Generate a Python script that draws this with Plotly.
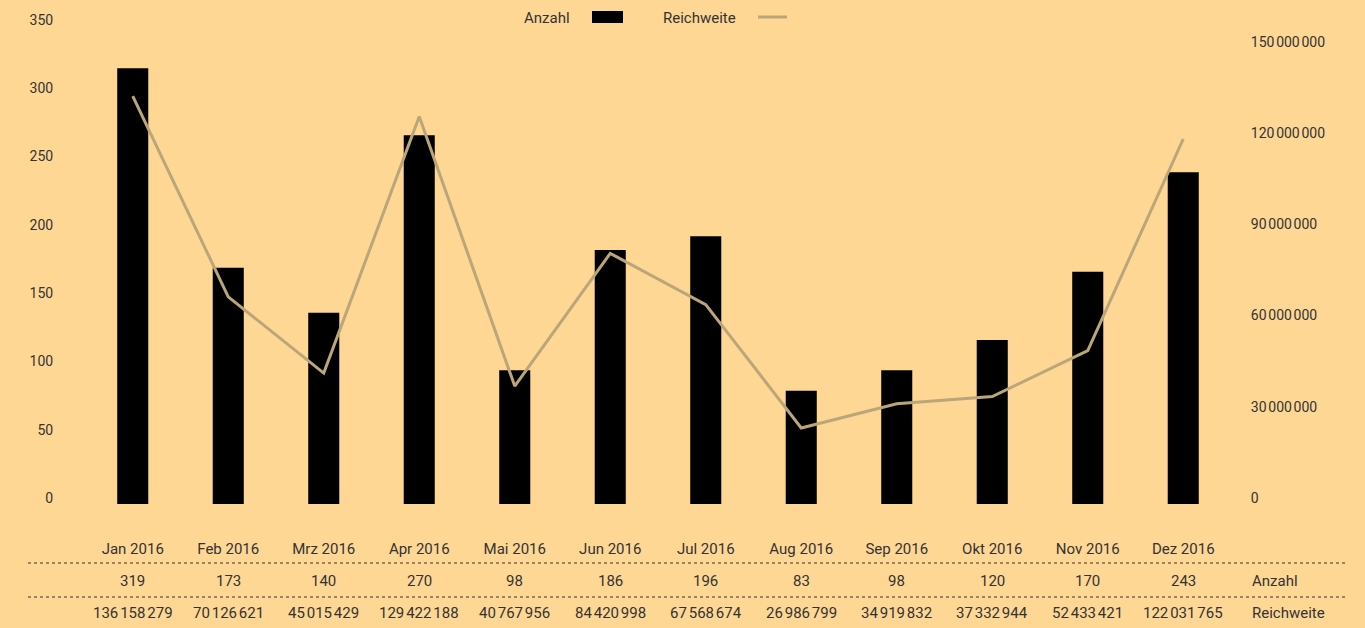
import plotly.graph_objects as go

months = ["Jan 2016", "Feb 2016", "Mrz 2016", "Apr 2016", "Mai 2016", "Jun 2016",
          "Jul 2016", "Aug 2016", "Sep 2016", "Okt 2016", "Nov 2016", "Dez 2016"]
anzahl = [319, 173, 140, 270, 98, 186, 196, 83, 98, 120, 170, 243]
reichweite = [136158279, 70126621, 45015429, 129422188, 40767956, 84420998,
              67568674, 26986799, 34919832, 37332944, 52433421, 122031765]
left_ticks = [0, 50, 100, 150, 200, 250, 300, 350]
right_ticks = [0, 30000000, 60000000, 90000000, 120000000, 150000000]

BG = "#FFD794"
LINE = "#BBA679"
TXT = "#333333"
FONT = "Roboto"
NSP = "\u202f"


def fmt(v):
    return f"{v:,}".replace(",", NSP)


fig = go.Figure()
fig.add_trace(go.Bar(x=months, y=anzahl, name="Anzahl", marker_color="#000000",
                     marker_line_width=0, yaxis="y"))
fig.add_trace(go.Scatter(x=months, y=reichweite, name="Reichweite", mode="lines",
                         line=dict(color=LINE, width=3), yaxis="y2"))

fig.update_layout(
    width=1365, height=628,
    margin=dict(l=85, r=134, t=26, b=116),
    paper_bgcolor=BG, plot_bgcolor=BG,
    showlegend=False,
    bargap=0.675,
    font=dict(family=FONT, size=14, color=TXT),
    xaxis=dict(showgrid=False, zeroline=False, showline=False,
               ticks="outside", ticklen=23, tickcolor="rgba(0,0,0,0)",
               tickfont=dict(size=15, color=TXT)),
    yaxis=dict(range=[-5.85, 350], tickvals=left_ticks, showgrid=False, zeroline=False,
               showline=False, ticks="outside", ticklen=28, tickcolor="rgba(0,0,0,0)",
               ticklabelshift=-6, tickfont=dict(size=14, color=TXT)),
    yaxis2=dict(range=[-0.66e6, 159.2e6], overlaying="y", side="right",
                tickvals=right_ticks, ticktext=[fmt(v) for v in right_ticks],
                showgrid=False, zeroline=False, showline=False,
                ticks="outside", ticklen=16, tickcolor="rgba(0,0,0,0)",
                ticklabelshift=-12, tickfont=dict(size=14, color=TXT)),
)

annotations = []
for m, a, r in zip(months, anzahl, reichweite):
    annotations.append(dict(x=m, xref="x", y=-0.142, yref="paper", text=str(a),
                            showarrow=False, xanchor="center", yanchor="middle",
                            font=dict(size=15, color=TXT)))
    annotations.append(dict(x=m, xref="x", y=-0.208, yref="paper", text=fmt(r),
                            showarrow=False, xanchor="center", yanchor="middle",
                            font=dict(size=15, color=TXT)))
for label, yy in [("Anzahl", -0.142), ("Reichweite", -0.208)]:
    annotations.append(dict(x=1.0166, xref="paper", y=yy, yref="paper", text=label,
                            showarrow=False, xanchor="left", yanchor="middle",
                            font=dict(size=15, color=TXT)))

# manual legend (text left of symbol)
annotations.append(dict(x=572, xref="paper", y=18, yref="paper", text="Anzahl",
                        showarrow=False, xanchor="right", yanchor="middle",
                        font=dict(size=15, color=TXT)))
annotations.append(dict(x=738, xref="paper", y=18, yref="paper", text="Reichweite",
                        showarrow=False, xanchor="right", yanchor="middle",
                        font=dict(size=15, color=TXT)))

W, H, L, B, PW, PH = 1365, 628, 85, 116, 1146, 486


def px(xp):
    return (xp - L) / PW


def py(yp):
    return (H - B - yp) / PH


for a in annotations:
    if a["xref"] == "paper" and a["x"] > 2:
        a["x"] = px(a["x"])
        a["y"] = py(a["y"])

shapes = [
    dict(type="rect", xref="paper", yref="paper", x0=px(592), x1=px(623), y0=py(23), y1=py(11),
         fillcolor="#000000", line=dict(width=0)),
    dict(type="line", xref="paper", yref="paper", x0=px(758), x1=px(787), y0=py(17), y1=py(17),
         line=dict(color=LINE, width=3)),
    dict(type="line", xref="paper", yref="paper", x0=px(28), x1=px(1345), y0=py(563), y1=py(563),
         line=dict(color="#333333", width=1, dash="dot")),
    dict(type="line", xref="paper", yref="paper", x0=px(28), x1=px(1345), y0=py(597), y1=py(597),
         line=dict(color="#333333", width=1, dash="dot")),
]
fig.update_layout(annotations=annotations, shapes=shapes)

fig.write_html("out.html")
